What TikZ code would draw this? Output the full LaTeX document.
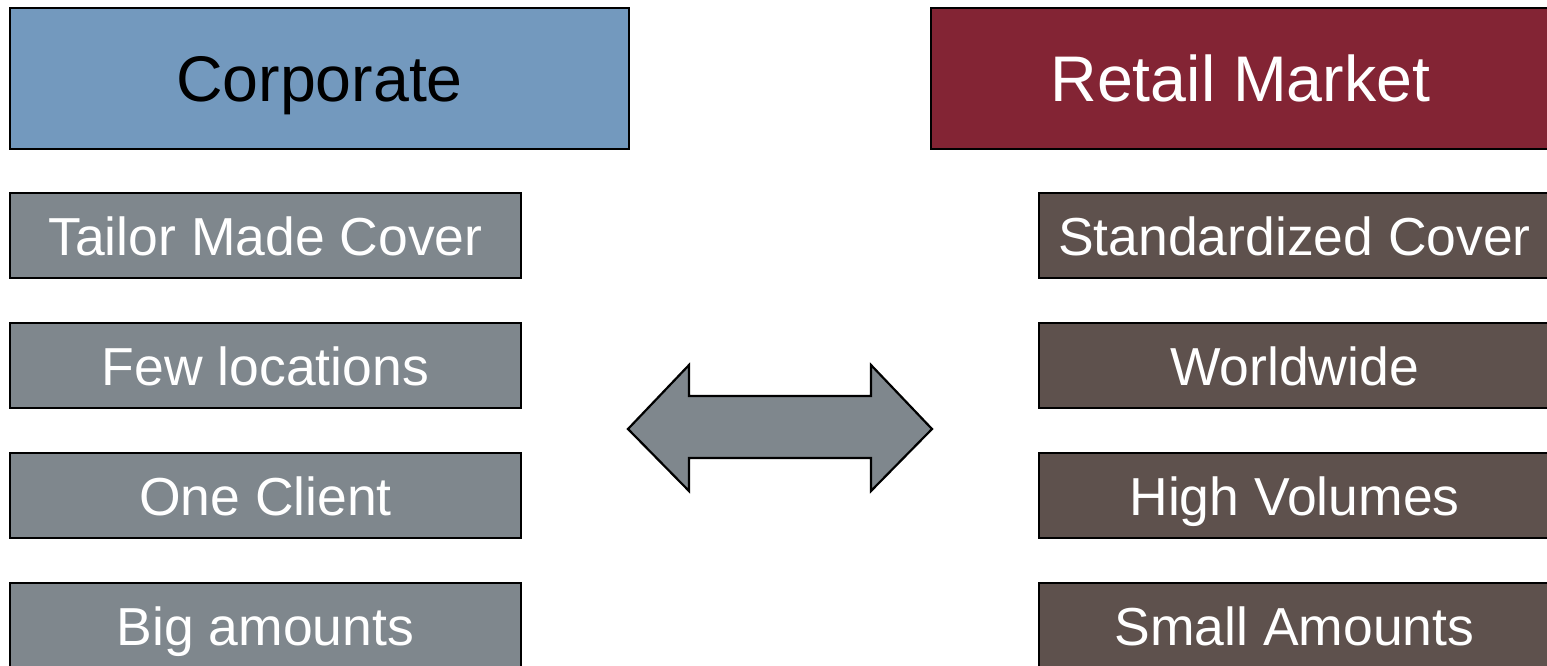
\documentclass[tikz,border=0pt]{standalone}
\usepackage{fontspec}
\setmainfont{Liberation Sans}
\definecolor{corpblue}{HTML}{7399BE}
\definecolor{retailred}{HTML}{832434}
\definecolor{itemgray}{HTML}{7F878D}
\definecolor{itembrown}{HTML}{5E514D}
\tikzset{
  headbox/.style={draw=black, line width=2.2pt, minimum width=619pt, minimum height=141pt, inner sep=0pt,
    font=\fontsize{64.5}{64.5}\selectfont, text height=46pt, text depth=0pt},
  itembox/.style={draw=black, line width=2.2pt, minimum width=511pt, minimum height=85pt, inner sep=0pt,
    font=\fontsize{53.5}{53.5}\selectfont, text=white, text height=39pt, text depth=0pt},
  leftitem/.style={itembox, fill=itemgray},
  rightitem/.style={itembox, fill=itembrown},
  bigarrow/.style={draw=black, line width=2.2pt, fill=itemgray, line join=miter}
}
\begin{document}
\begin{tikzpicture}[x=1pt, y=-1pt]
\useasboundingbox (0,0) rectangle (1547,666);
\clip (0,0) rectangle (1547,666);
\node[headbox, fill=corpblue, text=black] (corp) at (319.5,78.5) {Corporate};
\node[headbox, fill=retailred, text=white] (retail) at (1240.5,78.5) {Retail Market};
\node[leftitem] (l1) at (265.5,235.5) {Tailor Made Cover};
\node[leftitem] (l2) at (265.5,365.5) {Few locations};
\node[leftitem] (l3) at (265.5,495.5) {One Client};
\node[leftitem] (l4) at (265.5,625.5) {Big amounts};
\node[rightitem] (r1) at (1294.5,235.5) {Standardized Cover};
\node[rightitem] (r2) at (1294.5,365.5) {Worldwide};
\node[rightitem] (r3) at (1294.5,495.5) {High Volumes};
\node[rightitem] (r4) at (1294.5,625.5) {Small Amounts};
\coordinate (ltip) at (628,429);
\coordinate (rtip) at (932,429);
\draw[bigarrow] (ltip) -- (689,365) -- (689,396) -- (871,396) -- (871,365) -- (rtip)
  -- (871,491) -- (871,458) -- (689,458) -- (689,491) -- cycle;
\end{tikzpicture}
\end{document}
